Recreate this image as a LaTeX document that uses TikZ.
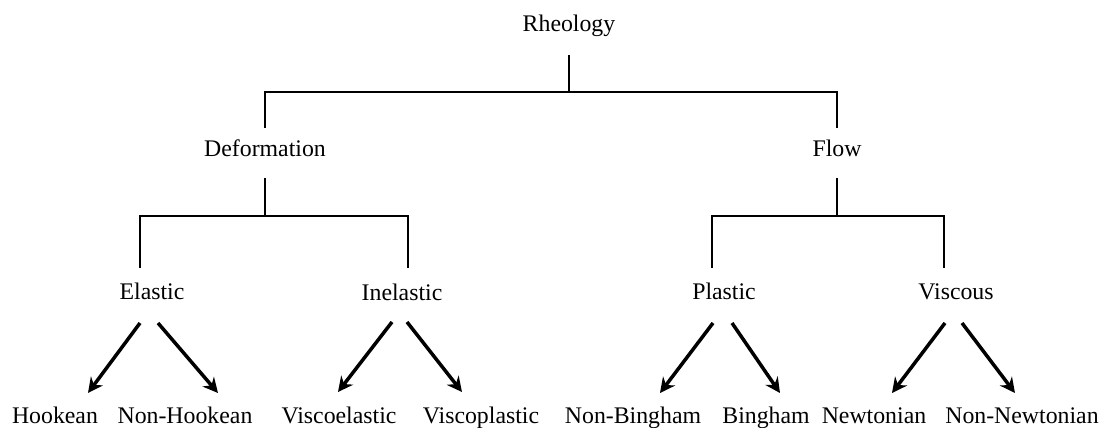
\documentclass[tikz,border=0pt]{standalone}
\usepackage{fontspec}
\setmainfont{Liberation Serif}
\usetikzlibrary{arrows.meta}
\begin{document}
\begin{tikzpicture}[x=1pt,y=-1pt,
  lbl/.style={anchor=base,inner sep=0pt,font=\fontsize{23.8}{28}\selectfont},
  tree/.style={line width=2pt},
  arr/.style={line width=3.5pt,-{Stealth[length=15pt,width=15pt,inset=5pt]}}]
\useasboundingbox (0,0) rectangle (1106,428);
% nodes
\node[lbl] (rheo) at (569,32) {Rheology};
\node[lbl] (def) at (265,156) {Deformation};
\node[lbl] (flow) at (837,156) {Flow};
\node[lbl] (ela) at (152,299) {Elastic};
\node[lbl] (inel) at (402,300) {Inelastic};
\node[lbl] (plas) at (724,299) {Plastic};
\node[lbl] (visc) at (956,299) {Viscous};
\node[lbl] (hook) at (55,423) {Hookean};
\node[lbl] (nhook) at (185,423) {Non-Hookean};
\node[lbl] (vel) at (339,423) {Viscoelastic};
\node[lbl] (vpl) at (481,423) {Viscoplastic};
\node[lbl] (nbing) at (633,423) {Non-Bingham};
\node[lbl] (bing) at (766,423) {Bingham};
\node[lbl] (newt) at (874,423) {Newtonian};
\node[lbl] (nnewt) at (1022,423) {Non-Newtonian};
% tree connectors
\draw[tree] ([yshift=-23pt]rheo.base) -- ++(0,37) coordinate (j0);
\draw[tree] ([yshift=28pt]def.base) |- (j0) -| ([yshift=28pt]flow.base);
\draw[tree] ([yshift=-22pt]def.base) -- ++(0,38) coordinate (j1);
\draw[tree] ([xshift=-12pt,yshift=31pt]ela.base) |- (j1) -| ([xshift=6pt,yshift=32pt]inel.base);
\draw[tree] ([yshift=-22pt]flow.base) -- ++(0,38) coordinate (j2);
\draw[tree] ([xshift=-12pt,yshift=31pt]plas.base) |- (j2) -| ([xshift=-12pt,yshift=31pt]visc.base);
% arrows
\draw[arr] ([xshift=-12pt,yshift=-24pt]ela.base) -- ([xshift=33pt,yshift=30pt]hook.base);
\draw[arr] ([xshift=6pt,yshift=-24pt]ela.base) -- ([xshift=33pt,yshift=30pt]nhook.base);
\draw[arr] ([xshift=-10pt,yshift=-22pt]inel.base) -- ([xshift=-1pt,yshift=31pt]vel.base);
\draw[arr] ([xshift=5pt,yshift=-22pt]inel.base) -- ([xshift=-19pt,yshift=31pt]vpl.base);
\draw[arr] ([xshift=-11pt,yshift=-24pt]plas.base) -- ([xshift=27pt,yshift=30pt]nbing.base);
\draw[arr] ([xshift=8pt,yshift=-24pt]plas.base) -- ([xshift=14pt,yshift=30pt]bing.base);
\draw[arr] ([xshift=-11pt,yshift=-24pt]visc.base) -- ([xshift=18pt,yshift=30pt]newt.base);
\draw[arr] ([xshift=6pt,yshift=-24pt]visc.base) -- ([xshift=-7pt,yshift=30pt]nnewt.base);
\end{tikzpicture}
\end{document}
